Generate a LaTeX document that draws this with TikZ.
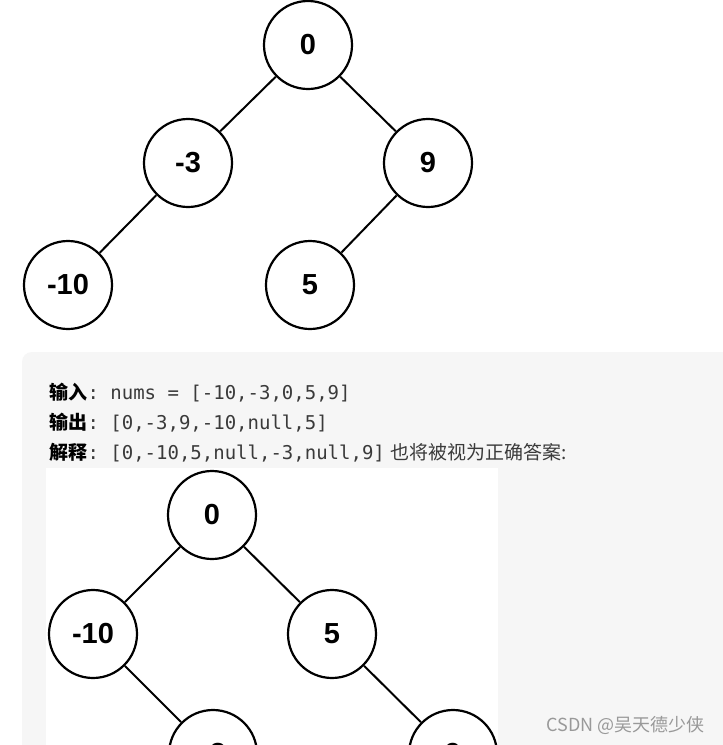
\documentclass[tikz,border=0pt]{standalone}
\usepackage{fontspec}
\setmainfont{Liberation Sans}
\newfontfamily\cjk{Noto Sans CJK SC}
\setmonofont{DejaVu Sans Mono}
\definecolor{boxgray}{HTML}{F6F6F6}
\definecolor{txtgray}{HTML}{3A3A3A}
\begin{document}
\begin{tikzpicture}[x=1pt,y=-1pt,
  tn/.style={draw,line width=2.2pt,circle,minimum size=88pt,inner sep=0pt,font=\fontsize{29}{29}\selectfont\bfseries},
  ed/.style={line width=2pt},
  ln/.style={anchor=base west,text=txtgray,font=\fontsize{19}{19}\selectfont}]
\useasboundingbox (0,0) rectangle (723,745);
\fill[white] (0,0) rectangle (723,745);
% top tree
\node[tn] (a) at (308,45) {0};
\node[tn] (b) at (188,163) {-3};
\node[tn] (c) at (428,163) {9};
\node[tn] (d) at (68,285) {-10};
\node[tn] (e) at (310,285) {5};
\draw[ed] (a)--(b); \draw[ed] (a)--(c); \draw[ed] (b)--(d); \draw[ed] (c)--(e);
% gray box
\fill[boxgray,rounded corners=10pt] (22,352) rectangle (760,780);
\node[ln] (t1) at (46,399) {{\cjk\bfseries\color{black}输入}\texttt{: nums = [-10,-3,0,5,9]}};
\node[ln] (t2) at (46,429) {{\cjk\bfseries\color{black}输出}\texttt{: [0,-3,9,-10,null,5]}};
\node[ln] (t3) at (46,459) {{\cjk\bfseries\color{black}解释}\texttt{: [0,-10,5,null,-3,null,9]} {\cjk 也将被视为正确答案:}};
\fill[white] (46,468) rectangle (498,745);
\begin{scope}
\clip (46,468) rectangle (498,745);
\node[tn] (f) at (212,515) {0};
\node[tn] (g) at (93,634) {-10};
\node[tn] (h) at (332,634) {5};
\node[tn] (i) at (213,754) {-3};
\node[tn] (j) at (453,754) {9};
\draw[ed] (f)--(g); \draw[ed] (f)--(h); \draw[ed] (g)--(i); \draw[ed] (h)--(j);
\end{scope}
\node[anchor=base east,text=black!40,font=\cjk\fontsize{18}{18}\selectfont] (wm) at (708,731) {CSDN @吴天德少侠};
\end{tikzpicture}
\end{document}
